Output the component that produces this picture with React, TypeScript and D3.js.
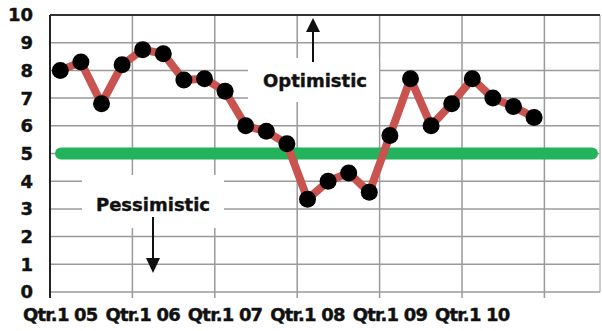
import React from "react";
import * as d3 from "d3";

const years = ["05", "06", "07", "08", "09", "10", "11"];
const quarters = ["1", "2", "3", "4"];
const values = [
  8.0, 8.3, 6.8, 8.2, 8.75, 8.6, 7.65, 7.7, 7.25, 6.0, 5.8, 5.35,
  3.35, 4.0, 4.3, 3.6, 5.65, 7.7, 6.0, 6.8, 7.7, 7.0, 6.7, 6.3,
];
const labelYears = ["05", "06", "07", "08", "09", "10"];
const yTicks = [0, 1, 2, 3, 4, 5, 6, 7, 8, 9, 10];
const neutral = 5;

const W = 602;
const H = 331;
const left = 50;
const top = 15;
const bottom = 292;
const right = 600;
const step = 20.6;

export default function App() {
  const cats: string[] = [];
  years.forEach((y) => quarters.forEach((q) => cats.push(`${y}-${q}`)));
  const x = d3
    .scaleBand<string>()
    .domain(cats)
    .range([left, left + cats.length * step])
    .paddingInner(0)
    .paddingOuter(0);
  const y = d3.scaleLinear().domain([0, 10]).range([bottom, top]);
  const cx = (i: number) => (x(cats[i]) as number) + x.bandwidth() / 2;
  const line = d3
    .line<number>()
    .x((_, i) => cx(i))
    .y((d) => y(d));
  const yearBounds = years.map((yy) => x(`${yy}-1`) as number).filter((v) => v <= right);
  const font = "'DejaVu Sans', sans-serif";
  const grid = "#9a9a9a";
  const txt = { fontFamily: font, fontWeight: "bold" as const, fontSize: 18, fill: "#111", stroke: "#111", strokeWidth: 0.4 };

  return (
    <svg width={W} height={H} style={{ position: "absolute", left: 0, top: 0, background: "#fff" }}>
      <defs>
        <clipPath id="plot">
          <rect x={left} y={0} width={right - left} height={H} />
        </clipPath>
      </defs>
      {yTicks.slice(1, -1).map((t) => (
        <line key={`h${t}`} x1={left} x2={right} y1={y(t)} y2={y(t)} stroke={grid} strokeWidth={1.5} />
      ))}
      {yearBounds.slice(1).map((b, i) => (
        <line key={`v${i}`} x1={b} x2={b} y1={top} y2={bottom + 6} stroke={grid} strokeWidth={1.5} />
      ))}
      <line x1={right} x2={right} y1={top} y2={bottom} stroke="#bbb" strokeWidth={1.5} />
      <line x1={left} x2={right} y1={bottom} y2={bottom} stroke={grid} strokeWidth={1.5} />
      <line x1={left} x2={right} y1={top} y2={top} stroke="#333" strokeWidth={2.2} />
      <line x1={left} x2={left} y1={top} y2={bottom + 6} stroke="#222" strokeWidth={2} />

      <rect x={248} y={58} width={131} height={44} fill="#fff" />
      <rect x={82} y={175} width={142} height={53} fill="#fff" />

      <line
        x1={61}
        x2={592}
        y1={y(neutral)}
        y2={y(neutral)}
        stroke="#22b35c"
        strokeWidth={12}
        strokeLinecap="round"
      />

      <g clipPath="url(#plot)">
        <path d={line(values) as string} fill="none" stroke="#c9534f" strokeWidth={8} strokeLinejoin="round" />
        {values.map((v, i) => (
          <circle key={i} cx={cx(i)} cy={y(v)} r={8.5} fill="#000" />
        ))}
      </g>

      {yTicks.map((t) => (
        <text key={`yl${t}`} x={33} y={y(t)} dy="0.36em" textAnchor="end" {...txt}>
          {t}
        </text>
      ))}
      {labelYears.map((yy) => (
        <text
          key={`xl${yy}`}
          x={(x(`${yy}-1`) as number) + x.bandwidth() / 2}
          y={321}
          textAnchor="middle"
          letterSpacing={-0.8}
          {...txt}
        >
          {`Qtr.1 ${yy}`}
        </text>
      ))}

      <text x={315} y={87} textAnchor="middle" {...txt}>
        Optimistic
      </text>
      <line x1={313} x2={313} y1={30} y2={62} stroke="#111" strokeWidth={2} />
      <path d="M313,18 L306,32 L320,32 Z" fill="#111" />

      <text x={153} y={211} textAnchor="middle" {...txt}>
        Pessimistic
      </text>
      <line x1={153} x2={153} y1={217} y2={260} stroke="#111" strokeWidth={2} />
      <path d="M153,273 L146,258 L160,258 Z" fill="#111" />
    </svg>
  );
}
